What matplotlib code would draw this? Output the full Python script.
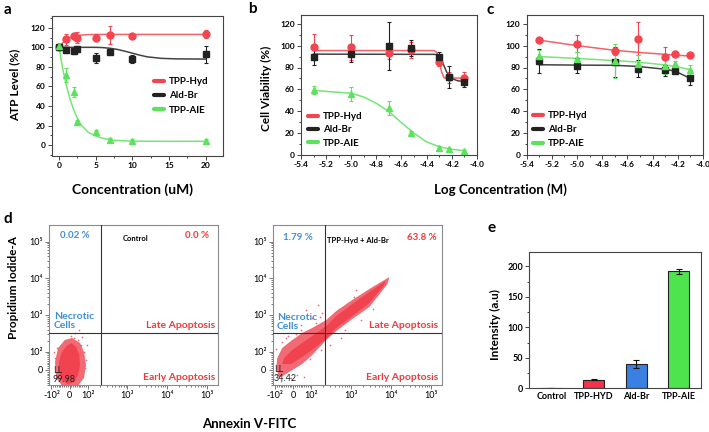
import numpy as np
import matplotlib
matplotlib.use('Agg')
import matplotlib.pyplot as plt
from matplotlib import font_manager
from matplotlib.ticker import MultipleLocator, FixedLocator, NullFormatter
from matplotlib.lines import Line2D

# ---------------- panel a: ATP level vs concentration (uM)
conc_a = [0, 1, 2, 2.5, 5, 7, 10, 20]
hyd_a = [100, 108, 111.5, 110, 110, 112.5, 111.5, 113.5]
hyd_a_err = [2, 6, 3, 5.5, 4, 9.5, 2, 4]
ald_a = [100, 97, 96, 98, 89, 95, 88, 92.7]
ald_a_err = [2, 3, 3, 3, 5, 2, 4, 9]
aie_a = [101, 71.6, 54, 24, 13.6, 5.8, 4.4, 4.4]
aie_a_err = [2, 7.5, 5, 2, 2, 2, 1.5, 1.5]
# fitted curves
fitx_hyd_a = [0, 0.5, 1, 1.5, 2, 3, 4, 6, 20]
fity_hyd_a = [100, 104.5, 108, 110, 111.3, 112.5, 113, 113.2, 113.2]
fitx_ald_a = [0, 5, 6, 7, 8, 9, 10, 11, 12, 14, 16, 20]
fity_ald_a = [100, 100, 99.7, 99, 97.8, 96, 94, 92, 90.3, 88.7, 88.2, 88]
fitx_aie_a = [0, 0.5, 1, 1.5, 2, 2.5, 3, 4, 5, 6, 7, 8, 10, 14, 20]
fity_aie_a = [100, 78, 61, 47, 36, 27.5, 21, 13, 9.5, 7, 5.5, 4.8, 4.2, 4, 4]

# ---------------- panels b, c: viability vs log concentration (M)
logc = [-5.3, -5.0, -4.7, -4.52, -4.3, -4.22, -4.1]
hyd_b = [99.2, 98.3, 93.7, 96.2, 85, 71, 70.8]
hyd_b_err = [11, 11.5, 5.5, 7.5, 4, 5, 5]
ald_b = [89.5, 92.2, 99.8, 97.7, 90, 71, 67]
ald_b_err = [7, 7.6, 21.7, 7.6, 4.6, 10, 5]
aie_b = [59.5, 55.6, 42.7, 19.8, 6.7, 5.5, 4]
aie_b_err = [3.5, 6.5, 6.5, 2, 1.5, 1, 1]
fitx_hyd_b = [-5.3, -4.34, -4.32, -4.3, -4.28, -4.26, -4.1]
fity_hyd_b = [95.5, 95.5, 94, 88, 76, 70.5, 70.3]
fitx_ald_b = [-5.3, -4.33, -4.3, -4.27, -4.24, -4.2, -4.15, -4.1]
fity_ald_b = [92.2, 92, 90, 84, 76, 70, 67.8, 67.3]
fitx_aie_b = [-5.3, -5.0, -4.9, -4.8, -4.7, -4.6, -4.5, -4.4, -4.3, -4.2, -4.1]
fity_aie_b = [59, 56.5, 53, 47.3, 39.7, 29.6, 20, 12, 7.6, 5.2, 4]

hyd_c = [104.9, 101.8, 94.8, 106.4, 89.7, 92.7, 91.2]
hyd_c_err = [2, 7.6, 3, 15, 9, 2, 2]
ald_c = [85.7, 81.8, 85, 79, 77.5, 77, 70]
ald_c_err = [11, 6.5, 14, 8, 5, 2, 6]
aie_c = [90.2, 88, 85.7, 83.6, 81, 83.6, 77.5]
aie_c_err = [6, 6, 15.5, 7.6, 6.7, 2, 5]
fitx_c = [-5.3, -5.0, -4.7, -4.52, -4.3, -4.22, -4.1]
fity_hyd_c = [105, 100, 95.7, 93.9, 92, 91.3, 90.5]
fity_ald_c = [82.5, 82.2, 82, 81, 78.4, 76.6, 70]
fity_aie_c = [90, 88.3, 86.3, 85, 82.3, 81, 78]

# ---------------- panel d: flow cytometry (Annexin V-FITC vs PI)
gate_x = 220
gate_y = 330
# outlines of the cell clouds (data units): light halo and dense core
ctrl_halo_x = [13.8, 58, 80, 91, 80, 47, -41, -74.5, -80, -63.4, -24.8]
ctrl_halo_y = [236, 172, 98, 27, -43.7, -85, -85, -43.7, 43.7, 126, 208]
ctrl_core_x = [10.5, 37, 53, 58, 47, 26, -10.5, -42, -58, -58, -42, -16]
ctrl_core_y = [172, 134, 82, 27, -27, -66, -77, -55, -11, 44, 98, 142]
ctrl_sparse_x = [26, 63, 79, -68, 89, -79, 68, 10, 45, -30, 85, 30, 95, -85, 70, 55]
ctrl_sparse_y = [235, 152, 98, 126, 54, 65, -27, 267, 210, 190, 10, 320, 150, 100, 250, 380]
trt_halo_x = [9100, 2860, 1066, 423, 237, 105, 49.6, -5.5, -60.7, -88, -94, -77, -22,
              49.6, 105, 237, 423, 1066, 2860, 8110]
trt_halo_y = [10900, 5130, 2570, 1288, 731, 443, 323, 208, 126, 65.5, 10.9, -43.7, -10.9,
              32.7, 82, 208, 366, 780, 1656, 7030]
trt_core_x = [7210, 2860, 1066, 423, 237, 105, 49.6, -5.5, -49.6, -60.7, -11, 49.6, 105,
              237, 423, 1066, 2860, 6810]
trt_core_y = [8480, 4250, 2000, 940, 502, 268, 172, 111, 65.5, 32.7, 32.7, 71, 111,
              222, 443, 940, 2130, 6600]
trt_sparse_x = [106, 44, -39, -78, -89, -11, 178, 562, 1778, 1334, 72, 188, 150, -60, 20,
                300, 700, 3500, 90, -95, 160, 130, 250, 40, -30, 500, 1200, 60, -70, 15]
trt_sparse_y = [826, 532, 235, 82, -27, -44, 111, 235, 728, 4786, 1365, 1130, 1866, 180,
                -30, 150, 400, 1500, 60, 120, 900, 600, 350, 400, 260, 1500, 3000, -40, -60, 300]
ctrl_pct = ['0.02 %', '0.0 %', '99.98']
trt_pct = ['1.79 %', '63.8 %', '34.42']

# ---------------- panel e: intensity bars
groups_e = ['Control', 'TPP-HYD', 'Ald-Br', 'TPP-AIE']
values_e = [0.5, 14, 40, 192]
errors_e = [0, 1, 7, 4]

RED = '#f2454f'
BLACK = '#222222'
GREEN = '#5ce25c'
BLUE_T = '#3f8fd8'
RED_T = '#f03a3a'
BAR_COLORS = ['#f0f0f0', '#f2334a', '#3a80e2', '#4ee44e']

installed = {f.name for f in font_manager.fontManager.ttflist}
base = 'Liberation Sans Narrow' if 'Liberation Sans Narrow' in installed else 'Lato'
plt.rcParams['font.family'] = [base, 'DejaVu Sans']
plt.rcParams['font.weight'] = 'bold'

W, H = 709, 432
fig = plt.figure(figsize=(W / 100, H / 100), dpi=100)


def box(l, t, r, b):
    return [l / W, 1 - b / H, (r - l) / W, (b - t) / H]


def ftext(x, y, s, **kw):
    fig.text(x / W, 1 - y / H, s, **kw)


def style(ax, size=6):
    for s in ax.spines.values():
        s.set_color('#444444')
        s.set_linewidth(0.8)
    ax.tick_params(which='both', direction='out', labelsize=size, width=0.7,
                   color='#444444', pad=1.5)
    ax.tick_params(which='major', length=3)
    ax.tick_params(which='minor', length=1.5)


def series(ax, x, y, err, fx, fy, color, marker, ms):
    ax.plot(fx, fy, color=color, lw=1.1, alpha=0.85, zorder=2)
    ax.errorbar(x, y, yerr=err, fmt=marker, color=color, ms=ms, mec=color,
                elinewidth=0.8, capsize=1.5, capthick=0.8, zorder=3)


def legend(ax, anchor, spacing):
    handles = [Line2D([], [], color=c, lw=3, solid_capstyle='round')
               for c in (RED, BLACK, GREEN)]
    ax.legend(handles, ['TPP-Hyd', 'Ald-Br', 'TPP-AIE'], loc='center left',
              bbox_to_anchor=anchor, frameon=False, fontsize=7,
              handlelength=1.0, handletextpad=0.5, labelspacing=spacing,
              borderpad=0, borderaxespad=0)


# ---- a
ax_a = fig.add_axes(box(51.7, 16, 222.7, 156))
series(ax_a, conc_a, hyd_a, hyd_a_err, fitx_hyd_a, fity_hyd_a, RED, 'o', 5)
series(ax_a, conc_a, ald_a, ald_a_err, fitx_ald_a, fity_ald_a, BLACK, 's', 4)
series(ax_a, conc_a, aie_a, aie_a_err, fitx_aie_a, fity_aie_a, GREEN, '^', 5)
ax_a.set_xlim(-1, 22.3)
ax_a.set_ylim(-11, 132)
ax_a.xaxis.set_major_locator(MultipleLocator(5))
ax_a.xaxis.set_minor_locator(MultipleLocator(2.5))
ax_a.yaxis.set_major_locator(MultipleLocator(20))
ax_a.yaxis.set_minor_locator(MultipleLocator(10))
style(ax_a)
legend(ax_a, (0.6, 0.43), 0.55)

# ---- b, c
ax_b = fig.add_axes(box(301, 15, 476.7, 155))
series(ax_b, logc, hyd_b, hyd_b_err, fitx_hyd_b, fity_hyd_b, RED, 'o', 5)
series(ax_b, logc, ald_b, ald_b_err, fitx_ald_b, fity_ald_b, BLACK, 's', 4)
series(ax_b, logc, aie_b, aie_b_err, fitx_aie_b, fity_aie_b, GREEN, '^', 5)
ax_c = fig.add_axes(box(526.7, 15, 703, 155))
series(ax_c, logc, hyd_c, hyd_c_err, fitx_c, fity_hyd_c, RED, 'o', 5)
series(ax_c, logc, ald_c, ald_c_err, fitx_c, fity_ald_c, BLACK, 's', 4)
series(ax_c, logc, aie_c, aie_c_err, fitx_c, fity_aie_c, GREEN, '^', 5)
for ax in (ax_b, ax_c):
    ax.set_xlim(-5.4, -4.0)
    ax.set_ylim(0, 128)
    ax.xaxis.set_major_locator(MultipleLocator(0.2))
    ax.xaxis.set_minor_locator(MultipleLocator(0.1))
    ax.yaxis.set_major_locator(MultipleLocator(20))
    ax.yaxis.set_minor_locator(MultipleLocator(10))
    ax.xaxis.set_major_formatter(lambda v, p: f'{v:.1f}')
    style(ax)
legend(ax_b, (0.04, 0.18), 0.45)
legend(ax_c, (0.036, 0.18), 0.5)

# ---- d
minor_flow = list(range(-90, 100, 10)) + [m * 10 ** k for k in (2, 3, 4) for m in range(2, 10)]
panels_d = [(box(49, 225, 218, 385), ctrl_halo_x, ctrl_halo_y, ctrl_core_x, ctrl_core_y,
             ctrl_sparse_x, ctrl_sparse_y),
            (box(272.7, 225, 442, 385), trt_halo_x, trt_halo_y, trt_core_x, trt_core_y,
             trt_sparse_x, trt_sparse_y)]
for rect, hx, hy, cx, cy, sx, sy in panels_d:
    ax = fig.add_axes(rect)
    ax.set_xscale('symlog', linthresh=100, linscale=0.41)
    ax.set_yscale('symlog', linthresh=100, linscale=0.45)
    ax.fill(hx, hy, color='#f26a73', lw=0, zorder=2)
    ax.fill(cx, cy, color='#f0434f', lw=0, zorder=2)
    ax.scatter(sx, sy, s=1.5, color='#f06870', lw=0, zorder=2)
    ax.axvline(gate_x, color='#333333', lw=0.8, zorder=3)
    ax.axhline(gate_y, color='#333333', lw=0.8, zorder=3)
    ax.set_xlim(-115, 1.9e5)
    ax.set_ylim(-82, 2.85e5)
    ax.set_xticks([-100, 0, 100, 1e3, 1e4, 1e5],
                  ['-10²', '0', '10²', '10³', '10⁴', '10⁵'])
    ax.set_yticks([0, 100, 1e3, 1e4, 1e5], ['0', '10²', '10³', '10⁴', '10⁵'])
    ax.xaxis.set_minor_locator(FixedLocator(minor_flow))
    ax.yaxis.set_minor_locator(FixedLocator(minor_flow))
    ax.xaxis.set_minor_formatter(NullFormatter())
    ax.yaxis.set_minor_formatter(NullFormatter())
    style(ax, size=6.5)
    for s in ax.spines.values():
        s.set_color('#8a8a8a')
    ax.tick_params(which='both', color='#777777')
    for lab in ax.get_xticklabels() + ax.get_yticklabels():
        lab.set_fontweight('normal')

lab_kw = dict(fontsize=7, va='center')
ftext(60, 236, ctrl_pct[0], color=BLUE_T, **lab_kw)
ftext(123, 239, 'Control', color='black', fontsize=5.5, va='center')
ftext(185, 236, ctrl_pct[1], color=RED_T, **lab_kw)
ftext(54, 321, 'Necrotic\nCells', color=BLUE_T, fontsize=7.5, va='center', linespacing=1.0)
ftext(215, 325, 'Late Apoptosis', color=RED_T, fontsize=7.5, va='center', ha='right')
ftext(53, 375, 'LL\n' + ctrl_pct[2], color='#222222', fontsize=6.5, fontweight='normal',
      va='center', linespacing=1.0)
ftext(215, 377, 'Early Apoptosis', color=RED_T, fontsize=7.5, va='center', ha='right')

ftext(283, 237, trt_pct[0], color=BLUE_T, **lab_kw)
ftext(327, 240, 'TPP-Hyd + Ald-Br', color='black', fontsize=5.5, va='center')
ftext(407, 237, trt_pct[1], color=RED_T, **lab_kw)
ftext(277, 322, 'Necrotic\nCells', color=BLUE_T, fontsize=7.5, va='center', linespacing=1.0)
ftext(438, 326, 'Late Apoptosis', color=RED_T, fontsize=7.5, va='center', ha='right')
ftext(274, 374, 'LL\n' + trt_pct[2], color='#222222', fontsize=6.5, fontweight='normal',
      va='center', linespacing=1.0)
ftext(438, 378, 'Early Apoptosis', color=RED_T, fontsize=7.5, va='center', ha='right')

# ---- e
ax_e = fig.add_axes(box(529.3, 251.7, 700.7, 388.3))
ax_e.bar(range(len(groups_e)), values_e, width=0.5, color=BAR_COLORS,
         edgecolor='#222222', lw=0.8, yerr=errors_e, capsize=2,
         error_kw=dict(elinewidth=0.8, capthick=0.8, ecolor='#111111'))
ax_e.set_xlim(-0.52, 3.52)
ax_e.set_ylim(0, 224)
ax_e.set_xticks(range(len(groups_e)), groups_e)
ax_e.yaxis.set_major_locator(MultipleLocator(50))
ax_e.yaxis.set_minor_locator(MultipleLocator(25))
style(ax_e, size=6.5)
ax_e.tick_params(axis='x', length=0, pad=3)

# ---- axis labels and panel letters
ftext(15, 85, 'ATP Level (%)', rotation=90, ha='center', va='center', fontsize=8.5)
ftext(132, 190, 'Concentration (uM)', ha='center', va='center', fontsize=10)
ftext(266, 88, 'Cell Viability (%)', rotation=90, ha='center', va='center', fontsize=8.5)
ftext(500, 190, 'Log Concentration (M)', ha='center', va='center', fontsize=9.5)
ftext(14, 288, 'Propidium Iodide-A', rotation=90, ha='center', va='center', fontsize=8.5)
ftext(249, 424, 'Annexin V-FITC', ha='center', va='center', fontsize=9.5)
ftext(495, 325, 'Intensity (a.u)', rotation=90, ha='center', va='center', fontsize=8.5)
for x, y, s in [(4, 10, 'a'), (248, 9, 'b'), (486, 10, 'c'), (4, 219, 'd'), (487, 228, 'e')]:
    ftext(x, y, s, fontsize=11, va='center')

fig.savefig('out.png', dpi=100)
